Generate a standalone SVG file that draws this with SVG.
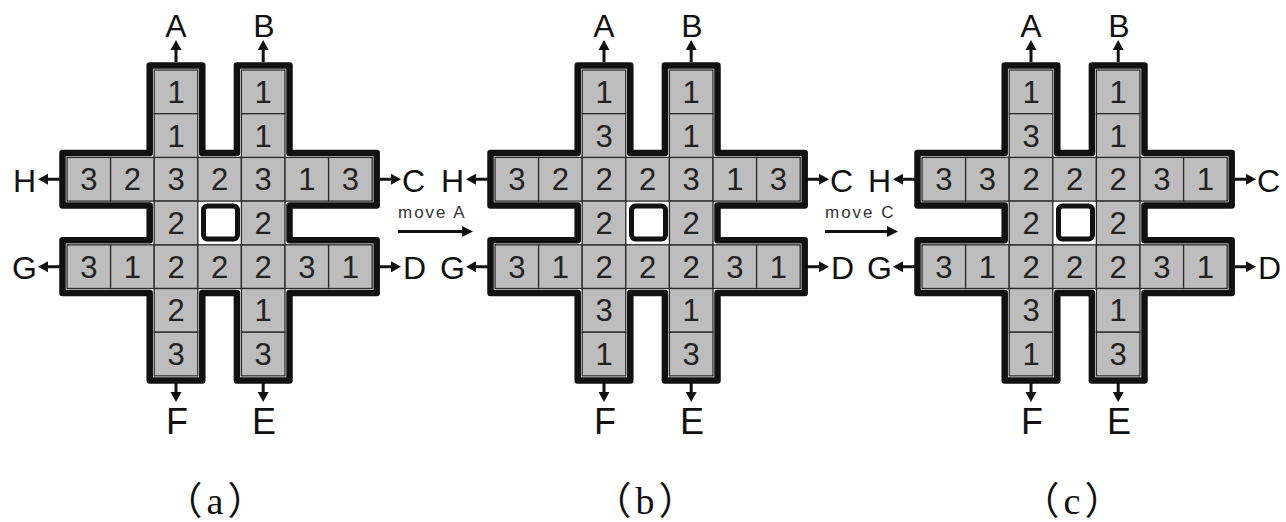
<svg xmlns="http://www.w3.org/2000/svg" xmlns:xlink="http://www.w3.org/1999/xlink" width="1286" height="522" viewBox="0 0 1286 522">
<style>
.wall{fill:#fff;stroke:#111;stroke-width:6.5;stroke-linejoin:round}
.hole{fill:#fff;stroke:#111;stroke-width:5}
.c{fill:#bdbdbd;stroke:#2a2a2a;stroke-width:1.3}
.d{font-family:"Liberation Sans",Arial,sans-serif;font-size:31px;fill:#222;text-anchor:middle}
.L{font-family:"Liberation Sans",Arial,sans-serif;font-size:32px;fill:#111}
.LB{font-family:"Liberation Sans",Arial,sans-serif;font-size:36px;fill:#111;text-anchor:middle}
.sh{stroke:#111;stroke-width:3;fill:none}
.hd{fill:#111}
.mv{font-family:"Liberation Sans",Arial,sans-serif;font-size:17px;fill:#333;letter-spacing:2px}
.cap{font-family:"Liberation Serif","Noto Sans CJK SC",serif;font-size:38px;fill:#111;text-anchor:middle;letter-spacing:4px}
</style>
<defs>
<g id="frame">
<path class="wall" d="M149.7,65.5 H202.3 V152.9 H236.9 V65.5 H289.5 V152.9 H376.7 V205.6 H289.5 V240.3 H376.7 V293 H289.5 V380.4 H236.9 V293 H202.3 V380.4 H149.7 V293 H62.5 V240.3 H149.7 V205.6 H62.5 V152.9 H149.7 Z"/>
<rect class="c" x="67" y="157.4" width="43.6" height="43.7"/>
<rect class="c" x="110.6" y="157.4" width="43.6" height="43.7"/>
<rect class="c" x="154.2" y="157.4" width="43.6" height="43.7"/>
<rect class="c" x="197.8" y="157.4" width="43.6" height="43.7"/>
<rect class="c" x="241.4" y="157.4" width="43.6" height="43.7"/>
<rect class="c" x="285" y="157.4" width="43.6" height="43.7"/>
<rect class="c" x="328.6" y="157.4" width="43.6" height="43.7"/>
<rect class="c" x="67" y="244.8" width="43.6" height="43.7"/>
<rect class="c" x="110.6" y="244.8" width="43.6" height="43.7"/>
<rect class="c" x="154.2" y="244.8" width="43.6" height="43.7"/>
<rect class="c" x="197.8" y="244.8" width="43.6" height="43.7"/>
<rect class="c" x="241.4" y="244.8" width="43.6" height="43.7"/>
<rect class="c" x="285" y="244.8" width="43.6" height="43.7"/>
<rect class="c" x="328.6" y="244.8" width="43.6" height="43.7"/>
<rect class="c" x="154.2" y="70" width="43.6" height="43.7"/>
<rect class="c" x="154.2" y="113.7" width="43.6" height="43.7"/>
<rect class="c" x="154.2" y="201.1" width="43.6" height="43.7"/>
<rect class="c" x="154.2" y="288.5" width="43.6" height="43.7"/>
<rect class="c" x="154.2" y="332.2" width="43.6" height="43.7"/>
<rect class="c" x="241.4" y="70" width="43.6" height="43.7"/>
<rect class="c" x="241.4" y="113.7" width="43.6" height="43.7"/>
<rect class="c" x="241.4" y="201.1" width="43.6" height="43.7"/>
<rect class="c" x="241.4" y="288.5" width="43.6" height="43.7"/>
<rect class="c" x="241.4" y="332.2" width="43.6" height="43.7"/>
<rect class="hole" x="203.5" y="206" width="34" height="33" rx="4"/>
<path class="sh" d="M176,62 V48 M263.2,62 V48 M176,383 V394 M263.2,383 V394 M60,179.25 H46 M60,266.65 H46 M379,179.25 H393 M379,266.65 H393"/>
<polygon class="hd" points="176,40 170.5,50 181.5,50"/>
<polygon class="hd" points="263.2,40 257.7,50 268.7,50"/>
<polygon class="hd" points="176,402 170.5,392 181.5,392"/>
<polygon class="hd" points="263.2,402 257.7,392 268.7,392"/>
<polygon class="hd" points="38,179.25 48,173.75 48,184.75"/>
<polygon class="hd" points="38,266.65 48,261.15 48,272.15"/>
<polygon class="hd" points="401,179.25 391,173.75 391,184.75"/>
<polygon class="hd" points="401,266.65 391,261.15 391,272.15"/>
</g>
</defs>

<g id="board-a">
<use xlink:href="#frame" href="#frame"/>
<g class="labels">
<text class="L" x="176" y="37" text-anchor="middle">A</text>
<text class="L" x="264" y="37" text-anchor="middle">B</text>
<text class="L" x="402" y="192">C</text>
<text class="L" x="403" y="279">D</text>
<text class="LB" x="264" y="434">E</text>
<text class="LB" x="177" y="434">F</text>
<text class="L" x="37" y="279" text-anchor="end">G</text>
<text class="L" x="36" y="192" text-anchor="end">H</text>
</g>
<g class="digits">
<text class="d" x="88.8" y="190.3">3</text><text class="d" x="132.4" y="190.3">2</text><text class="d" x="176" y="190.3">3</text><text class="d" x="219.6" y="190.3">2</text><text class="d" x="263.2" y="190.3">3</text><text class="d" x="306.8" y="190.3">1</text><text class="d" x="350.4" y="190.3">3</text>
<text class="d" x="88.8" y="277.7">3</text><text class="d" x="132.4" y="277.7">1</text><text class="d" x="176" y="277.7">2</text><text class="d" x="219.6" y="277.7">2</text><text class="d" x="263.2" y="277.7">2</text><text class="d" x="306.8" y="277.7">3</text><text class="d" x="350.4" y="277.7">1</text>
<text class="d" x="176" y="103">1</text><text class="d" x="176" y="146.6">1</text><text class="d" x="176" y="234">2</text><text class="d" x="176" y="321.4">2</text><text class="d" x="176" y="365.1">3</text>
<text class="d" x="263.2" y="103">1</text><text class="d" x="263.2" y="146.6">1</text><text class="d" x="263.2" y="234">2</text><text class="d" x="263.2" y="321.4">1</text><text class="d" x="263.2" y="365.1">3</text>
</g>
<text class="cap" x="217" y="514">（a）</text>
</g>

<g id="board-b" transform="translate(428,0)">
<use xlink:href="#frame" href="#frame"/>
<g class="labels">
<text class="L" x="176" y="37" text-anchor="middle">A</text>
<text class="L" x="264" y="37" text-anchor="middle">B</text>
<text class="L" x="402" y="192">C</text>
<text class="L" x="403" y="279">D</text>
<text class="LB" x="264" y="434">E</text>
<text class="LB" x="177" y="434">F</text>
<text class="L" x="37" y="279" text-anchor="end">G</text>
<text class="L" x="36" y="192" text-anchor="end">H</text>
</g>
<g class="digits">
<text class="d" x="88.8" y="190.3">3</text><text class="d" x="132.4" y="190.3">2</text><text class="d" x="176" y="190.3">2</text><text class="d" x="219.6" y="190.3">2</text><text class="d" x="263.2" y="190.3">3</text><text class="d" x="306.8" y="190.3">1</text><text class="d" x="350.4" y="190.3">3</text>
<text class="d" x="88.8" y="277.7">3</text><text class="d" x="132.4" y="277.7">1</text><text class="d" x="176" y="277.7">2</text><text class="d" x="219.6" y="277.7">2</text><text class="d" x="263.2" y="277.7">2</text><text class="d" x="306.8" y="277.7">3</text><text class="d" x="350.4" y="277.7">1</text>
<text class="d" x="176" y="103">1</text><text class="d" x="176" y="146.6">3</text><text class="d" x="176" y="234">2</text><text class="d" x="176" y="321.4">3</text><text class="d" x="176" y="365.1">1</text>
<text class="d" x="263.2" y="103">1</text><text class="d" x="263.2" y="146.6">1</text><text class="d" x="263.2" y="234">2</text><text class="d" x="263.2" y="321.4">1</text><text class="d" x="263.2" y="365.1">3</text>
</g>
<text class="cap" x="219" y="514">（b）</text>
</g>

<g id="board-c" transform="translate(855,0)">
<use xlink:href="#frame" href="#frame"/>
<g class="labels">
<text class="L" x="176" y="37" text-anchor="middle">A</text>
<text class="L" x="264" y="37" text-anchor="middle">B</text>
<text class="L" x="402" y="192">C</text>
<text class="L" x="403" y="279">D</text>
<text class="LB" x="264" y="434">E</text>
<text class="LB" x="177" y="434">F</text>
<text class="L" x="37" y="279" text-anchor="end">G</text>
<text class="L" x="36" y="192" text-anchor="end">H</text>
</g>
<g class="digits">
<text class="d" x="88.8" y="190.3">3</text><text class="d" x="132.4" y="190.3">3</text><text class="d" x="176" y="190.3">2</text><text class="d" x="219.6" y="190.3">2</text><text class="d" x="263.2" y="190.3">2</text><text class="d" x="306.8" y="190.3">3</text><text class="d" x="350.4" y="190.3">1</text>
<text class="d" x="88.8" y="277.7">3</text><text class="d" x="132.4" y="277.7">1</text><text class="d" x="176" y="277.7">2</text><text class="d" x="219.6" y="277.7">2</text><text class="d" x="263.2" y="277.7">2</text><text class="d" x="306.8" y="277.7">3</text><text class="d" x="350.4" y="277.7">1</text>
<text class="d" x="176" y="103">1</text><text class="d" x="176" y="146.6">3</text><text class="d" x="176" y="234">2</text><text class="d" x="176" y="321.4">3</text><text class="d" x="176" y="365.1">1</text>
<text class="d" x="263.2" y="103">1</text><text class="d" x="263.2" y="146.6">1</text><text class="d" x="263.2" y="234">2</text><text class="d" x="263.2" y="321.4">1</text><text class="d" x="263.2" y="365.1">3</text>
</g>
<text class="cap" x="219" y="514">（c）</text>
</g>

<g id="connectors">
<g id="move-a">
<text class="mv" x="398" y="218">move A</text>
<path class="sh" d="M398,231.5 H463"/>
<polygon class="hd" points="473,231.5 462,226 462,237"/>
</g>
<g id="move-c">
<text class="mv" x="825" y="218">move C</text>
<path class="sh" d="M825,231.5 H888"/>
<polygon class="hd" points="898,231.5 887,226 887,237"/>
</g>
</g>
</svg>
